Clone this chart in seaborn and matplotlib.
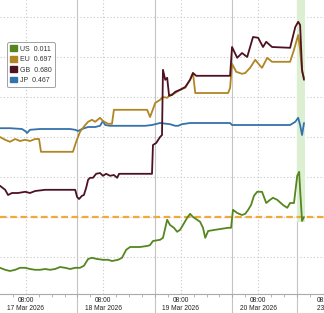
import numpy as np
import pandas as pd
import matplotlib
matplotlib.use("Agg")
import matplotlib.pyplot as plt
from matplotlib.patches import Patch
import seaborn as sns

# ---- data (hours on a compressed trading-time axis, arbitrary value units) ----
jp_h = [0, 3.1, 6.8, 7.8, 8.4, 9.3, 12.4, 18.6, 21.7, 23.3, 24.2, 25.4, 27.3, 29.5, 31.0, 31.9, 32.6, 34.1,
        40.3, 45.0, 47.1, 48.1, 49.6, 52.7, 54.3, 55.2, 56.4, 58.9, 71.3, 71.9, 80.6, 89.9, 91.5, 92.4,
        93.0, 93.6, 94.2]
jp_v = [4.22, 4.22, 4.20, 4.15, 4.10, 4.18, 4.20, 4.20, 4.20, 4.18, 4.15, 4.20, 4.25, 4.25, 4.28, 4.40,
        4.30, 4.28, 4.28, 4.28, 4.30, 4.32, 4.35, 4.32, 4.28, 4.28, 4.32, 4.35, 4.35, 4.30, 4.30, 4.30,
        4.38, 4.48, 4.30, 4.05, 4.35]

eu_h = [0, 1.6, 3.1, 4.7, 6.2, 7.8, 9.3, 10.9, 12.1, 12.7, 15.5, 18.6, 22.6, 23.6, 24.8, 26.4, 27.3, 28.5,
        29.5, 31.0, 31.9, 33.5, 34.7, 35.3, 38.8, 43.4, 45.6, 46.5, 47.1, 48.1, 49.6, 50.5, 51.8, 52.7,
        54.3, 55.8, 57.4, 58.9, 59.8, 60.5, 65.1, 70.7, 71.3, 71.9, 73.2, 75.0, 76.0, 77.5, 79.1, 80.6,
        81.2, 82.8, 84.3, 89.9, 91.1, 92.4, 93.0, 93.6, 94.2]
eu_v = [4.00, 3.93, 3.88, 3.95, 3.90, 3.93, 3.90, 3.95, 3.95, 3.63, 3.63, 3.63, 3.63, 3.88, 4.13, 4.30,
        4.38, 4.43, 4.38, 4.48, 4.40, 4.33, 4.33, 4.68, 4.68, 4.68, 4.68, 4.50, 4.63, 4.85, 4.93, 5.00,
        4.98, 5.05, 5.10, 5.18, 5.23, 5.43, 5.60, 5.10, 5.10, 5.10, 5.23, 5.83, 5.63, 5.58, 5.60, 5.73,
        5.93, 5.78, 5.73, 5.98, 5.88, 5.88, 6.18, 6.55, 6.18, 5.63, 5.48]

gb_h = [0, 1.6, 2.5, 3.7, 5.6, 7.8, 9.3, 10.9, 14.0, 17.1, 20.2, 23.3, 23.9, 24.5, 25.4, 26.0, 26.7, 27.3,
        27.9, 28.8, 29.8, 31.0, 31.9, 32.9, 34.1, 35.3, 36.3, 36.9, 40.3, 47.1, 47.4, 48.4, 49.6, 50.2,
        50.5, 51.2, 51.8, 52.4, 53.3, 54.3, 55.8, 57.4, 58.9, 59.8, 60.8, 71.3, 71.9, 73.5, 75.0, 76.6,
        78.4, 80.0, 81.5, 82.5, 84.3, 89.9, 91.5, 92.4, 93.0, 93.6, 94.2]
gb_v = [2.78, 2.68, 2.55, 2.60, 2.60, 2.63, 2.60, 2.65, 2.68, 2.68, 2.68, 2.68, 2.50, 2.45, 2.53, 2.55,
        2.73, 2.93, 2.98, 2.98, 3.08, 3.10, 3.03, 3.08, 3.03, 3.05, 2.98, 3.08, 3.08, 3.08, 3.80, 3.85,
        4.00, 4.05, 5.68, 5.43, 5.48, 5.03, 5.05, 5.13, 5.18, 5.25, 5.43, 5.60, 5.53, 5.53, 6.25, 5.98,
        6.10, 6.00, 6.50, 6.48, 6.25, 6.38, 6.25, 6.23, 6.75, 6.88, 6.80, 5.68, 5.43]

us_h = [0, 1.6, 3.1, 4.7, 6.2, 7.8, 9.3, 10.9, 12.4, 14.0, 15.5, 17.1, 18.6, 20.2, 21.7, 23.3, 24.8, 26.0,
        27.3, 28.5, 30.1, 31.9, 33.5, 34.7, 36.6, 37.8, 39.1, 40.3, 43.4, 45.9, 46.5, 47.4, 49.6, 50.5,
        51.8, 52.7, 53.9, 54.9, 55.8, 56.7, 58.0, 58.9, 59.8, 61.1, 62.0, 62.9, 63.6, 64.5, 66.7, 70.7,
        71.6, 72.2, 73.5, 75.0, 76.0, 76.9, 77.8, 78.7, 79.7, 81.2, 82.5, 83.7, 84.6, 85.9, 87.7, 89.0,
        89.9, 91.1, 92.1, 92.7, 93.0, 93.6, 94.2]
us_v = [0.73, 0.68, 0.65, 0.68, 0.73, 0.73, 0.70, 0.68, 0.68, 0.70, 0.68, 0.70, 0.75, 0.73, 0.70, 0.73,
        0.73, 0.78, 0.95, 0.98, 0.95, 0.93, 0.93, 0.90, 0.93, 0.98, 1.18, 1.25, 1.25, 1.28, 1.30, 1.40,
        1.43, 1.48, 1.93, 1.80, 1.73, 1.63, 1.68, 1.80, 1.98, 2.08, 2.00, 1.93, 1.88, 1.73, 1.48, 1.65,
        1.68, 1.73, 1.73, 2.18, 2.10, 2.05, 2.08, 2.18, 2.30, 2.53, 2.63, 2.63, 2.35, 2.43, 2.48, 2.43,
        2.30, 2.23, 2.35, 2.35, 3.03, 3.13, 2.68, 1.90, 2.00]

series_names = ["US", "EU", "GB", "JP"]
series_last = ["0.011", "0.697", "0.680", "0.467"]
ref_level = 2.0

tick_pos = [8, 32, 56, 80, 98.3]
tick_labels = ["08:00\n17 Mar 2026", "08:00\n18 Mar 2026", "08:00\n19 Mar 2026",
               "08:00\n20 Mar 2026", "08:00\n23 Mar 2026"]
day_breaks = [24, 48, 72, 92.1]
highlight = (92.1, 94.6)

colors = {"US": "#55861f", "EU": "#b08524", "GB": "#4d1222", "JP": "#3472aa"}

# ---- build long table ----
frames = []
for name, h, v in [("JP", jp_h, jp_v), ("EU", eu_h, eu_v), ("GB", gb_h, gb_v), ("US", us_h, us_v)]:
    frames.append(pd.DataFrame({"h": h, "v": v, "series": name}))
df = pd.concat(frames, ignore_index=True)

sns.set_theme(style="white")
plt.rcParams["font.family"] = ["Liberation Sans Narrow", "Liberation Sans", "DejaVu Sans"]

fig = plt.figure(figsize=(3.24, 3.13), dpi=100)
ax = fig.add_axes([0, 19 / 313, 1, 294 / 313])
ax.set_xlim(0, 100.4)
ax.set_ylim(0.075, 7.425)

# grid
for y in range(1, 8):
    ax.axhline(y, color="#c8c8c8", lw=0.8, ls=(0, (1, 2)), zorder=0)
for x in tick_pos[:-1]:
    ax.axvline(x, color="#c8c8c8", lw=0.8, ls=(0, (1, 2)), zorder=0)
for x in day_breaks:
    ax.plot([x, x], [-0.065, 1], transform=ax.get_xaxis_transform(), color="#c4c4c4",
            lw=0.8, clip_on=False, zorder=0)

ax.axvspan(highlight[0], highlight[1], ymin=0.245, ymax=1, color="#dcefd3", zorder=0.5, lw=0)
ax.axhline(ref_level, color="#f2a93b", lw=1.6, ls=(0, (3, 1.6)), zorder=1)

sns.lineplot(data=df, x="h", y="v", hue="series", hue_order=["JP", "EU", "GB", "US"],
             palette=colors, estimator=None, sort=False, linewidth=1.3, legend=False, ax=ax, zorder=3)

ax.set_xlabel("")
ax.set_ylabel("")
ax.set_yticks([])
ax.set_xticks(tick_pos)
ax.set_xticklabels(tick_labels, fontsize=4.8, color="#222222", linespacing=1.2)
lbls = ax.get_xticklabels()
lbls[-1].set_horizontalalignment("left")
lbls[-1].set_multialignment("left")
ax.set_xticks(np.arange(4, 100, 4), minor=True)
ax.tick_params(axis="x", which="major", length=0, pad=2)
ax.tick_params(axis="x", which="minor", length=2, width=0.5, color="#999999", direction="out", bottom=True)
for s in ["top", "left", "right"]:
    ax.spines[s].set_visible(False)
ax.spines["bottom"].set_color("#aaaaaa")
ax.spines["bottom"].set_linewidth(0.8)

handles = [Patch(facecolor=colors[n], edgecolor=colors[n]) for n in series_names]
labels = [f"{n}  {val}" for n, val in zip(series_names, series_last)]
leg = ax.legend(handles, labels, loc="upper left", bbox_to_anchor=(0.022, 0.856), fontsize=5,
                frameon=True, handlelength=0.9, handleheight=0.9, handletextpad=0.5,
                labelspacing=0.45, borderpad=0.45, borderaxespad=0, fancybox=True)
leg.get_frame().set_edgecolor("#8a8a8a")
leg.get_frame().set_linewidth(0.7)
for t in leg.get_texts():
    t.set_color("#333333")

fig.savefig("out.png", dpi=100)
